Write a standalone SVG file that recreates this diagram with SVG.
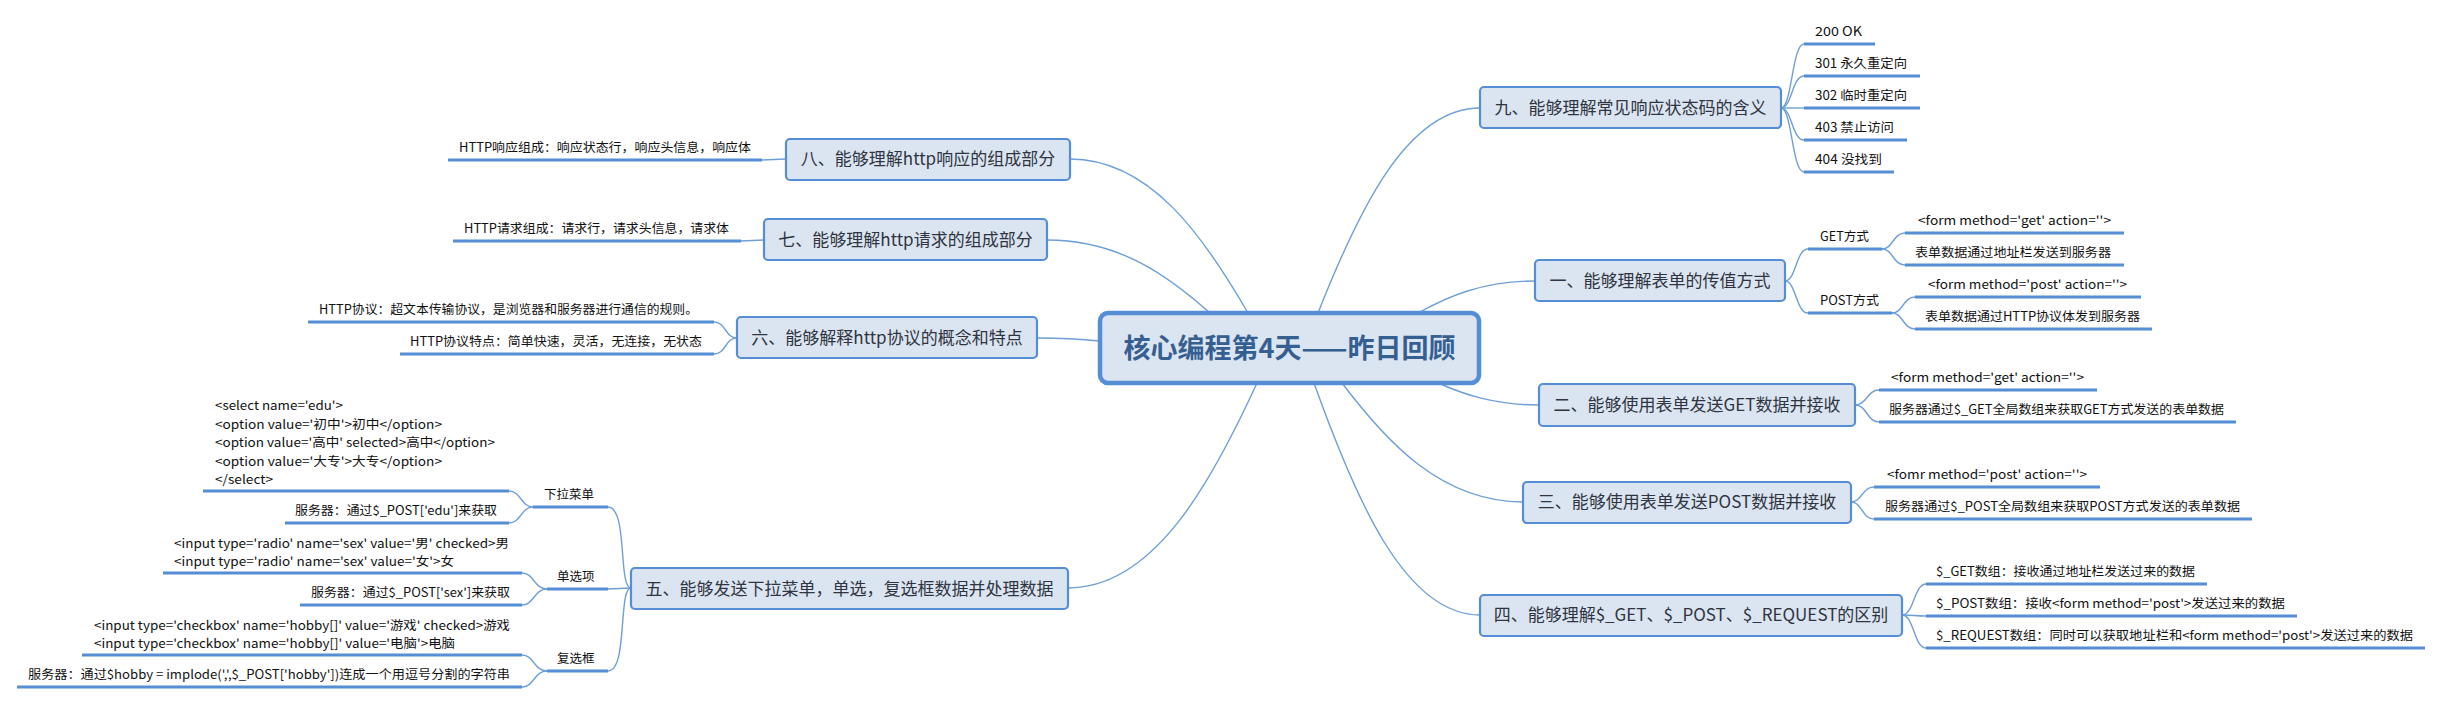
<svg xmlns="http://www.w3.org/2000/svg" width="2443" height="704" viewBox="0 0 2443 704">
<style>
.bg{fill:#ffffff}
.conn path{fill:none;stroke:#6f9fd8;stroke-width:1.4}
.ul{stroke:#558ed5;stroke-width:3;fill:none}
.box{fill:#dbe5f1;stroke:#558ed5;stroke-width:2.2}
.cbox{fill:#dbe5f1;stroke:#558ed5;stroke-width:4.5}
.mt{font-family:"Noto Sans CJK SC","Liberation Sans",sans-serif;font-size:17px;fill:#2f3440;text-anchor:middle}
.ct{font-family:"Noto Sans CJK SC","Liberation Sans",sans-serif;font-size:27px;font-weight:bold;fill:#365f91;text-anchor:middle}
.st{font-family:"Noto Sans CJK SC","Liberation Sans",sans-serif;font-size:12.5px;fill:#111111}
</style>
<rect class="bg" x="0" y="0" width="2443" height="704"/>
<g id="connectors" class="conn">
<path d="M1318 313 C1358.5 210.5 1407 108 1480 108"/>
<path d="M1418 313 C1447 297 1482 281 1535 281"/>
<path d="M1438 383 C1463 394 1494 405 1539 405"/>
<path d="M1342 383 C1387 442.5 1441.5 502 1523 502"/>
<path d="M1314 383 C1355.5 499 1405 615 1480 615"/>
<path d="M1248 313 C1203.5 236 1150 159 1070 159"/>
<path d="M1210 313 C1169 276.5 1120 240 1047 240"/>
<path d="M1100 341 Q1070 338 1037 338"/>
<path d="M1257 383 C1210 485.5 1153 588 1068 588"/>
<path d="M1781 108 C1792 108 1792 44 1804 44"/>
<path d="M1781 108 C1792 108 1792 76 1804 76"/>
<path d="M1781 108 L1804 108"/>
<path d="M1781 108 C1792 108 1792 140 1804 140"/>
<path d="M1781 108 C1792 108 1792 172 1804 172"/>
<path d="M1785 281 C1796 281 1796 249 1808 249"/>
<path d="M1785 281 C1796 281 1796 313 1808 313"/>
<path d="M1882 249 C1893 249 1893 233 1905 233"/>
<path d="M1882 249 C1893 249 1893 265 1905 265"/>
<path d="M1892 313 C1903 313 1903 297 1915 297"/>
<path d="M1892 313 C1903 313 1903 329 1915 329"/>
<path d="M1855 405 C1867 405 1867 390 1879 390"/>
<path d="M1855 405 C1867 405 1867 422 1879 422"/>
<path d="M1851 502 C1862 502 1862 487 1874 487"/>
<path d="M1851 502 C1862 502 1862 519 1874 519"/>
<path d="M1902 615 C1914 615 1914 584 1926 584"/>
<path d="M1902 615 C1914 615 1914 616 1926 616"/>
<path d="M1902 615 C1914 615 1914 648 1926 648"/>
<path d="M786 159 L762 160"/>
<path d="M764 240 L741 241"/>
<path d="M737 338 C725 338 726 322 714 322"/>
<path d="M737 338 C725 338 726 354 714 354"/>
<path d="M631 588 C618 588 628 507 608 507"/>
<path d="M631 588 L608 589"/>
<path d="M631 588 C618 588 628 671 608 671"/>
<path d="M533 507 C521 507 521 491 509 491"/>
<path d="M533 507 C521 507 521 523 509 523"/>
<path d="M547 589 C534 589 534 573 522 573"/>
<path d="M547 589 C534 589 534 605 522 605"/>
<path d="M547 671 C534 671 534 655 522 655"/>
<path d="M547 671 C534 671 534 687 522 687"/>
</g>

<g id="central">
<rect class="cbox" x="1100" y="313" width="379" height="70" rx="8"/>
<text class="ct" x="1289.5" y="358">核心编程第4天——昨日回顾</text>
</g>

<g id="n9">
<rect class="box" x="1480" y="87" width="301" height="41" rx="4"/>
<text class="mt" x="1630.5" y="113.5">九、能够理解常见响应状态码的含义</text>
</g>
<g id="n9-kids">
<line class="ul" x1="1804" y1="44" x2="1875" y2="44"/><text class="st" x="1815" y="36" textLength="47" lengthAdjust="spacingAndGlyphs">200 OK</text>
<line class="ul" x1="1804" y1="76" x2="1920" y2="76"/><text class="st" x="1815" y="68" textLength="92" lengthAdjust="spacingAndGlyphs">301 永久重定向</text>
<line class="ul" x1="1804" y1="108" x2="1920" y2="108"/><text class="st" x="1815" y="100" textLength="92" lengthAdjust="spacingAndGlyphs">302 临时重定向</text>
<line class="ul" x1="1804" y1="140" x2="1907" y2="140"/><text class="st" x="1815" y="132" textLength="79" lengthAdjust="spacingAndGlyphs">403 禁止访问</text>
<line class="ul" x1="1804" y1="172" x2="1894" y2="172"/><text class="st" x="1815" y="164" textLength="67" lengthAdjust="spacingAndGlyphs">404 没找到</text>
</g>

<g id="n1">
<rect class="box" x="1535" y="260" width="250" height="41" rx="4"/>
<text class="mt" x="1660" y="286.5">一、能够理解表单的传值方式</text>
</g>
<g id="n1-kids">
<line class="ul" x1="1808" y1="249" x2="1882" y2="249"/><text class="st" x="1820" y="241" textLength="49" lengthAdjust="spacingAndGlyphs">GET方式</text>
<line class="ul" x1="1808" y1="313" x2="1892" y2="313"/><text class="st" x="1820" y="305" textLength="59" lengthAdjust="spacingAndGlyphs">POST方式</text>
<line class="ul" x1="1905" y1="233" x2="2124" y2="233"/><text class="st" x="1918" y="225" textLength="193" lengthAdjust="spacingAndGlyphs">&lt;form method='get' action=''&gt;</text>
<line class="ul" x1="1905" y1="265" x2="2124" y2="265"/><text class="st" x="1915" y="257" textLength="196" lengthAdjust="spacingAndGlyphs">表单数据通过地址栏发送到服务器</text>
<line class="ul" x1="1915" y1="297" x2="2141" y2="297"/><text class="st" x="1928" y="289" textLength="199" lengthAdjust="spacingAndGlyphs">&lt;form method='post' action=''&gt;</text>
<line class="ul" x1="1915" y1="329" x2="2152" y2="329"/><text class="st" x="1925" y="321" textLength="215" lengthAdjust="spacingAndGlyphs">表单数据通过HTTP协议体发到服务器</text>
</g>

<g id="n2">
<rect class="box" x="1539" y="384" width="316" height="42" rx="4"/>
<text class="mt" x="1697" y="411">二、能够使用表单发送GET数据并接收</text>
</g>
<g id="n2-kids">
<line class="ul" x1="1879" y1="390" x2="2097" y2="390"/><text class="st" x="1891" y="382" textLength="193" lengthAdjust="spacingAndGlyphs">&lt;form method='get' action=''&gt;</text>
<line class="ul" x1="1879" y1="422" x2="2236" y2="422"/><text class="st" x="1889" y="414" textLength="335" lengthAdjust="spacingAndGlyphs">服务器通过$_GET全局数组来获取GET方式发送的表单数据</text>
</g>

<g id="n3">
<rect class="box" x="1523" y="482" width="328" height="41" rx="4"/>
<text class="mt" x="1687" y="508">三、能够使用表单发送POST数据并接收</text>
</g>
<g id="n3-kids">
<line class="ul" x1="1874" y1="487" x2="2100" y2="487"/><text class="st" x="1887" y="479" textLength="200" lengthAdjust="spacingAndGlyphs">&lt;fomr method='post' action=''&gt;</text>
<line class="ul" x1="1874" y1="519" x2="2252" y2="519"/><text class="st" x="1885" y="511" textLength="355" lengthAdjust="spacingAndGlyphs">服务器通过$_POST全局数组来获取POST方式发送的表单数据</text>
</g>

<g id="n4">
<rect class="box" x="1480" y="595" width="422" height="41" rx="4"/>
<text class="mt" x="1691" y="621">四、能够理解$_GET、$_POST、$_REQUEST的区别</text>
</g>
<g id="n4-kids">
<line class="ul" x1="1926" y1="584" x2="2207" y2="584"/><text class="st" x="1936" y="576" textLength="259" lengthAdjust="spacingAndGlyphs">$_GET数组：接收通过地址栏发送过来的数据</text>
<line class="ul" x1="1926" y1="616" x2="2297" y2="616"/><text class="st" x="1936" y="608" textLength="349" lengthAdjust="spacingAndGlyphs">$_POST数组：接收&lt;form method='post'&gt;发送过来的数据</text>
<line class="ul" x1="1926" y1="648" x2="2425" y2="648"/><text class="st" x="1936" y="640" textLength="477" lengthAdjust="spacingAndGlyphs">$_REQUEST数组：同时可以获取地址栏和&lt;form method='post'&gt;发送过来的数据</text>
</g>

<g id="n8">
<rect class="box" x="786" y="139" width="284" height="41" rx="4"/>
<text class="mt" x="928" y="165">八、能够理解http响应的组成部分</text>
</g>
<g id="n8-kids">
<line class="ul" x1="448" y1="160" x2="762" y2="160"/><text class="st" x="459" y="152" textLength="292" lengthAdjust="spacingAndGlyphs">HTTP响应组成：响应状态行，响应头信息，响应体</text>
</g>

<g id="n7">
<rect class="box" x="764" y="219" width="283" height="41" rx="4"/>
<text class="mt" x="905.5" y="245.5">七、能够理解http请求的组成部分</text>
</g>
<g id="n7-kids">
<line class="ul" x1="453" y1="241" x2="741" y2="241"/><text class="st" x="464" y="233" textLength="265" lengthAdjust="spacingAndGlyphs">HTTP请求组成：请求行，请求头信息，请求体</text>
</g>

<g id="n6">
<rect class="box" x="737" y="317" width="300" height="41" rx="4"/>
<text class="mt" x="887" y="343.5">六、能够解释http协议的概念和特点</text>
</g>
<g id="n6-kids">
<line class="ul" x1="308" y1="322" x2="714" y2="322"/><text class="st" x="319" y="314" textLength="379" lengthAdjust="spacingAndGlyphs">HTTP协议：超文本传输协议，是浏览器和服务器进行通信的规则。</text>
<line class="ul" x1="400" y1="354" x2="714" y2="354"/><text class="st" x="410" y="346" textLength="292" lengthAdjust="spacingAndGlyphs">HTTP协议特点：简单快速，灵活，无连接，无状态</text>
</g>

<g id="n5">
<rect class="box" x="631" y="568" width="437" height="41" rx="4"/>
<text class="mt" x="849.5" y="594.5">五、能够发送下拉菜单，单选，复选框数据并处理数据</text>
</g>
<g id="n5-kids">
<line class="ul" x1="533" y1="507" x2="608" y2="507"/><text class="st" x="544" y="499">下拉菜单</text>
<line class="ul" x1="547" y1="589" x2="608" y2="589"/><text class="st" x="557" y="581">单选项</text>
<line class="ul" x1="547" y1="671" x2="608" y2="671"/><text class="st" x="557" y="663">复选框</text>
</g>
<g id="select-kids">
<line class="ul" x1="203" y1="491" x2="509" y2="491"/>
<text class="st" x="215" y="410" textLength="128" lengthAdjust="spacingAndGlyphs">&lt;select name='edu'&gt;</text>
<text class="st" x="215" y="428.5" textLength="227" lengthAdjust="spacingAndGlyphs">&lt;option value='初中'&gt;初中&lt;/option&gt;</text>
<text class="st" x="215" y="447" textLength="280" lengthAdjust="spacingAndGlyphs">&lt;option value='高中' selected&gt;高中&lt;/option&gt;</text>
<text class="st" x="215" y="465.5" textLength="227" lengthAdjust="spacingAndGlyphs">&lt;option value='大专'&gt;大专&lt;/option&gt;</text>
<text class="st" x="215" y="484" textLength="58" lengthAdjust="spacingAndGlyphs">&lt;/select&gt;</text>
<line class="ul" x1="285" y1="523" x2="509" y2="523"/><text class="st" x="295" y="515" textLength="202" lengthAdjust="spacingAndGlyphs">服务器：通过$_POST['edu']来获取</text>
</g>
<g id="radio-kids">
<line class="ul" x1="163" y1="573" x2="522" y2="573"/>
<text class="st" x="174" y="547.5" textLength="335" lengthAdjust="spacingAndGlyphs">&lt;input type='radio' name='sex' value='男' checked&gt;男</text>
<text class="st" x="174" y="565.5" textLength="280" lengthAdjust="spacingAndGlyphs">&lt;input type='radio' name='sex' value='女'&gt;女</text>
<line class="ul" x1="300" y1="605" x2="522" y2="605"/><text class="st" x="311" y="597" textLength="199" lengthAdjust="spacingAndGlyphs">服务器：通过$_POST['sex']来获取</text>
</g>
<g id="checkbox-kids">
<line class="ul" x1="82" y1="655" x2="522" y2="655"/>
<text class="st" x="94" y="629.5" textLength="416" lengthAdjust="spacingAndGlyphs">&lt;input type='checkbox' name='hobby[]' value='游戏' checked&gt;游戏</text>
<text class="st" x="94" y="647.5" textLength="361" lengthAdjust="spacingAndGlyphs">&lt;input type='checkbox' name='hobby[]' value='电脑'&gt;电脑</text>
<line class="ul" x1="17" y1="687" x2="522" y2="687"/><text class="st" x="28" y="679" textLength="482" lengthAdjust="spacingAndGlyphs">服务器：通过$hobby = implode(',',$_POST['hobby'])连成一个用逗号分割的字符串</text>
</g>
</svg>
